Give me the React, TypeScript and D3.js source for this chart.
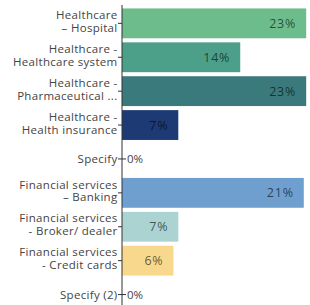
import React from "react";
import { scaleBand, scaleLinear } from "d3";

const width = 310;
const height = 305;

// category labels, split on two lines where the chart wraps them
const categories = [
  ["Healthcare", "– Hospital"],
  ["Healthcare -", "Healthcare system"],
  ["Healthcare -", "Pharmaceutical ..."],
  ["Healthcare -", "Health insurance"],
  ["Specify"],
  ["Financial services", "– Banking"],
  ["Financial services", "- Broker/ dealer"],
  ["Financial services", "- Credit cards"],
  ["Specify (2)"],
];
// bar lengths (percent)
const values = [22.9, 14.7, 22.9, 7.0, 0, 22.6, 7.0, 6.4, 0];
// value labels as printed on the chart
const valueLabels = ["23%", "14%", "23%", "7%", "0%", "21%", "7%", "6%", "0%"];
const colors = [
  "#6dbd8c",
  "#4c9f88",
  "#3b7a7c",
  "#1d3a74",
  "#888888",
  "#6f9fcf",
  "#abd3d2",
  "#f8d88c",
  "#888888",
];

const axisX = 122;
const fontFamily = "'Open Sans', sans-serif";

const App = () => {
  const y = scaleBand<number>()
    .domain(values.map((_, i) => i))
    .range([6.4, 311.5])
    .paddingInner(0.12)
    .paddingOuter(0.06);

  const x = scaleLinear().domain([0, 23]).range([axisX, 307]);

  return (
    <svg
      width={width}
      height={height}
      style={{ position: "absolute", left: 0, top: 0, background: "#fff" }}
      fontFamily={fontFamily}
    >
      {values.map((v, i) => {
        const cy = (y(i) ?? 0) + y.bandwidth() / 2;
        const lines = categories[i];
        return (
          <g key={i}>
            {v > 0 ? (
              <>
                <rect
                  x={x(0)}
                  y={y(i)}
                  width={x(v) - x(0)}
                  height={y.bandwidth()}
                  fill={colors[i]}
                />
                <text
                  x={Math.min(x(v) - 10, 305)}
                  y={cy + 4.5}
                  textAnchor="end"
                  fontSize={12.5}
                  letterSpacing={0.8}
                  fill="#000"
                  fillOpacity={0.62}
                >
                  {valueLabels[i]}
                </text>
              </>
            ) : (
              <>
                <line x1={x(0)} x2={x(0) + 4} y1={cy} y2={cy} stroke="#333" />
                <text
                  x={x(0) + 5}
                  y={cy + 4}
                  fontSize={11.5}
                  fill="#444"
                >
                  {valueLabels[i]}
                </text>
              </>
            )}
            {/* tick */}
            <line x1={axisX - 4} x2={axisX} y1={cy} y2={cy} stroke="#333" />
            {lines.length === 2 ? (
              <text textAnchor="end" fontSize={11.5} letterSpacing={0.3} fill="#444">
                <tspan x={117.5} y={cy - 4.3}>
                  {lines[0]}
                </tspan>
                <tspan x={117.5} y={cy + 8.6}>
                  {lines[1]}
                </tspan>
              </text>
            ) : (
              <text
                x={117.5}
                y={cy + 4}
                textAnchor="end"
                fontSize={11.5}
                letterSpacing={0.3}
                fill="#444"
              >
                {lines[0]}
              </text>
            )}
          </g>
        );
      })}
      {/* y axis line */}
      <line x1={axisX} x2={axisX} y1={5} y2={height} stroke="#333" />
    </svg>
  );
};

export default App;
